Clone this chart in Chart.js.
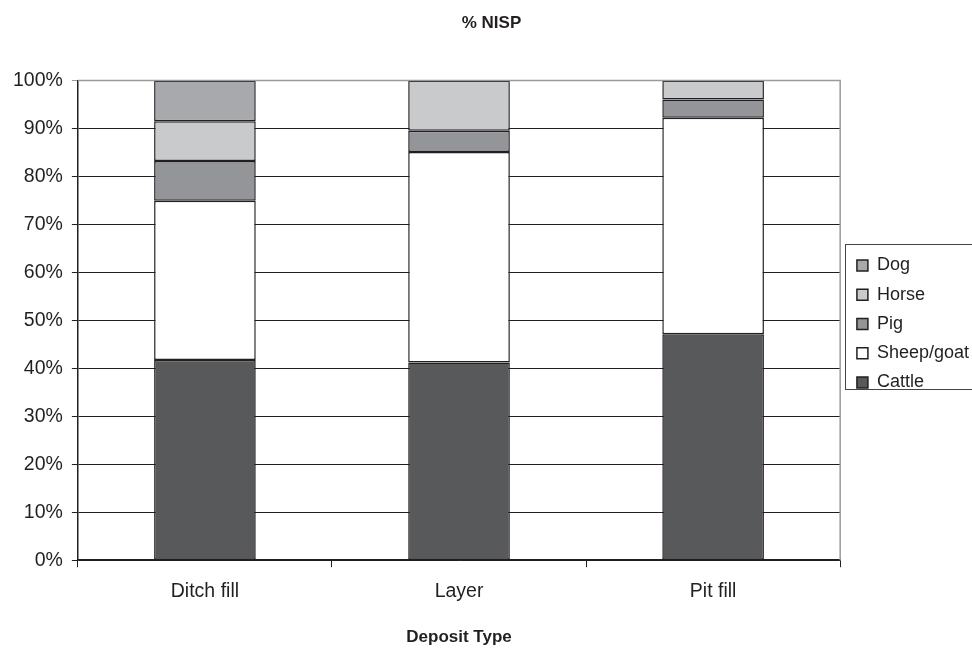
<!DOCTYPE html>
<html>
<head>
<meta charset="utf-8">
<script src="https://cdn.jsdelivr.net/npm/chart.js@4.4.1/dist/chart.umd.min.js"></script>
<style>
  html, body { margin: 0; padding: 0; background: #fff; }
  #wrap { width: 972px; height: 648px; }
</style>
</head>
<body>
<div id="wrap"><canvas id="chart"></canvas></div>
<script>
// ---- data (percent of NISP per deposit type) ----
const categories = ['Ditch fill', 'Layer', 'Pit fill'];
const cattle     = [41.7, 41.2, 47.1];
const sheepGoat  = [33.2, 43.9, 45.1];
const pig        = [8.3, 4.4, 3.8];
const horse      = [8.3, 10.5, 4.0];
const dog        = [8.5, 0, 0];
const yTicks     = [0, 10, 20, 30, 40, 50, 60, 70, 80, 90, 100];

const FONT = "'Liberation Sans', Arial, sans-serif";
const INK  = '#231f20';

function series(label, data, color) {
  return {
    label, data,
    backgroundColor: color,
    borderColor: INK,
    borderWidth: 1.5,
    borderSkipped: false,
    barPercentage: 0.4,
    categoryPercentage: 1.0
  };
}

// plot-area border (top/right in grey) + box round the legend
const frame = {
  id: 'frame',
  afterDraw(chart) {
    const { ctx, chartArea: a } = chart;
    ctx.save();
    ctx.strokeStyle = '#9a9a9a';
    ctx.lineWidth = 1.5;
    ctx.beginPath();
    ctx.moveTo(a.left, a.top);
    ctx.lineTo(a.right, a.top);
    ctx.lineTo(a.right, a.bottom);
    ctx.stroke();
    ctx.strokeStyle = '#444';
    ctx.lineWidth = 1;
    ctx.strokeRect(845.5, 244.5, 140, 145);
    ctx.restore();
  }
};

new Chart(document.getElementById('chart'), {
  type: 'bar',
  data: {
    labels: categories,
    datasets: [
      series('Cattle', cattle, '#58595b'),
      series('Sheep/goat', sheepGoat, '#ffffff'),
      series('Pig', pig, '#939598'),
      series('Horse', horse, '#c9cacc'),
      series('Dog', dog, '#a7a9ac')
    ]
  },
  options: {
    responsive: true,
    maintainAspectRatio: false,
    animation: false,
    layout: { padding: { left: 4, right: -7, top: 0, bottom: 0 } },
    plugins: {
      title: {
        display: true,
        text: '% NISP',
        color: INK,
        font: { family: FONT, size: 17, weight: 'bold' },
        padding: { top: 13, bottom: 47 }
      },
      legend: {
        position: 'right',
        reverse: true,
        labels: {
          color: INK,
          font: { family: FONT, size: 18 },
          boxWidth: 11,
          boxHeight: 11,
          padding: 11.25
        }
      },
      tooltip: { enabled: false }
    },
    scales: {
      x: {
        stacked: true,
        border: { color: INK, width: 1.5 },
        grid: { drawOnChartArea: false, drawTicks: true, tickLength: 7, color: INK, offset: true },
        ticks: { color: INK, font: { family: FONT, size: 19.5 }, padding: 13 },
        title: {
          display: true,
          text: 'Deposit Type',
          color: INK,
          font: { family: FONT, size: 17, weight: 'bold' },
          padding: { top: 11, bottom: 0 }
        }
      },
      y: {
        stacked: true,
        min: 0,
        max: 100,
        afterBuildTicks(axis) { axis.ticks = yTicks.map(v => ({ value: v })); },
        border: { color: INK, width: 1.5 },
        grid: {
          color: ctx => (ctx.tick && ctx.tick.value === 100) ? '#9a9a9a' : INK,
          lineWidth: 1,
          tickLength: 6
        },
        ticks: {
          color: INK,
          font: { family: FONT, size: 19.5 },
          padding: 9,
          callback: v => v + '%'
        }
      },
      // empty right-hand axis: only keeps a gap between plot and legend
      gap: {
        position: 'right',
        display: true,
        grid: { display: false, drawTicks: false },
        border: { display: false },
        ticks: { display: false },
        afterFit(scale) { scale.width = 5.5; }
      }
    }
  },
  plugins: [frame]
});
</script>
</body>
</html>
